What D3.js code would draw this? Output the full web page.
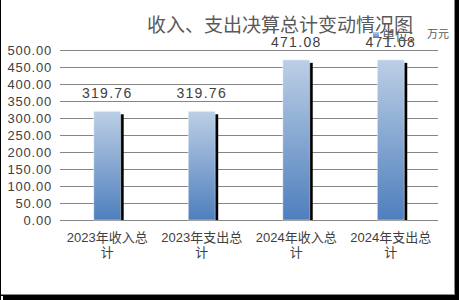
<!DOCTYPE html>
<html><head><meta charset="utf-8">
<script src="https://cdn.jsdelivr.net/npm/d3@7"></script>
<style>body{margin:0;background:#000;}svg{display:block;}</style>
</head><body>
<script>
const categories = ["2023年收入总计", "2023年支出总计", "2024年收入总计", "2024年支出总计"];
const values = [319.76, 319.76, 471.08, 471.08];
const yTicks = [0, 50, 100, 150, 200, 250, 300, 350, 400, 450, 500];
const title = "收入、支出决算总计变动情况图";
const legendLabel = "单位：";
const unitLabel = "万元";

const W = 459, H = 300;
const svg = d3.select("body").append("svg").attr("width", W).attr("height", H);
const defs = svg.append("defs");
const g = defs.append("linearGradient").attr("id", "bg").attr("x1", 0).attr("y1", 0).attr("x2", 0).attr("y2", 1);
g.append("stop").attr("offset", "0%").attr("stop-color", "#bccfe6");
g.append("stop").attr("offset", "100%").attr("stop-color", "#4e7fbd");

// frame
svg.append("rect").attr("x", 0).attr("y", 0).attr("width", W).attr("height", H).attr("fill", "#000");
svg.append("rect").attr("x", 1).attr("y", 0).attr("width", 454).attr("height", 295).attr("fill", "#8a8a8a");
svg.append("rect").attr("x", 1).attr("y", 0).attr("width", 453).attr("height", 294).attr("fill", "#fff");
svg.append("rect").attr("x", 1).attr("y", 296).attr("width", 2).attr("height", 4).attr("fill", "#fff");

const x = d3.scaleBand().domain(categories).range([60, 438]).paddingInner(0.715).paddingOuter(0.357);
const y = d3.scaleLinear().domain([0, 500]).range([220, 50]);

// gridlines
svg.append("g").selectAll("line").data(yTicks).join("line")
  .attr("x1", 60).attr("x2", 438)
  .attr("y1", d => Math.round(y(d)) + 0.5).attr("y2", d => Math.round(y(d)) + 0.5)
  .attr("stroke", "#868686").attr("stroke-width", 1);

// y labels
const yAxis = d3.axisLeft(y).tickValues(yTicks).tickFormat(d3.format(".2f")).tickSize(0).tickPadding(8);
const ya = svg.append("g").attr("transform", "translate(60,0.5)").call(yAxis);
ya.select(".domain").remove();
ya.selectAll("text").attr("font-family", "Liberation Sans, Arial, sans-serif").attr("font-size", 13)
  .attr("fill", "#404040").attr("letter-spacing", "0.8px");

// shadows
svg.append("g").selectAll("rect").data(values).join("rect")
  .attr("x", (d, i) => x(categories[i]) + 3)
  .attr("y", d => y(d) + 3)
  .attr("width", x.bandwidth())
  .attr("height", d => y(0) - y(d) - 3)
  .attr("fill", "#000");

// bars
svg.append("g").selectAll("rect").data(values).join("rect")
  .attr("x", (d, i) => x(categories[i]))
  .attr("y", d => y(d))
  .attr("width", x.bandwidth())
  .attr("height", d => y(0) - y(d))
  .attr("fill", "url(#bg)")
  .attr("stroke", "rgba(255,255,255,0.45)").attr("stroke-width", 1);

// value labels
svg.append("g").selectAll("text").data(values).join("text")
  .attr("x", (d, i) => x(categories[i]) + x.bandwidth() / 2)
  .attr("y", d => y(d) - 13)
  .attr("text-anchor", "middle")
  .attr("font-family", "Liberation Sans, Arial, sans-serif").attr("font-size", 14)
  .attr("letter-spacing", "1.3px")
  .attr("fill", "#404040")
  .text(d => d3.format(".2f")(d));

// x labels
const xl = svg.append("g").selectAll("text").data(categories).join("text")
  .attr("x", d => x(d) + x.bandwidth() / 2)
  .attr("y", 242)
  .attr("text-anchor", "middle")
  .attr("font-family", "Liberation Sans, 'Noto Sans CJK SC', sans-serif").attr("font-size", 13)
  .attr("fill", "#404040");
xl.append("tspan").attr("x", d => x(d) + x.bandwidth() / 2).text(d => d.slice(0, d.length - 1));
xl.append("tspan").attr("x", d => x(d) + x.bandwidth() / 2).attr("dy", 15).text(d => d.slice(-1));

// title
svg.append("text").attr("x", 280).attr("y", 32).attr("text-anchor", "middle")
  .attr("font-family", "'Noto Sans CJK SC', sans-serif").attr("font-size", 19)
  .attr("fill", "#595959").text(title);

// legend
svg.append("rect").attr("x", 373).attr("y", 32).attr("width", 6).attr("height", 6).attr("fill", "url(#bg)");
svg.append("text").attr("x", 382).attr("y", 40)
  .attr("font-family", "'Noto Sans CJK SC', sans-serif").attr("font-size", 13)
  .attr("fill", "#595959").text(legendLabel);
svg.append("text").attr("x", 427).attr("y", 38)
  .attr("font-family", "'Noto Sans CJK SC', sans-serif").attr("font-size", 11)
  .attr("fill", "#595959").text(unitLabel);
</script>
</body></html>
